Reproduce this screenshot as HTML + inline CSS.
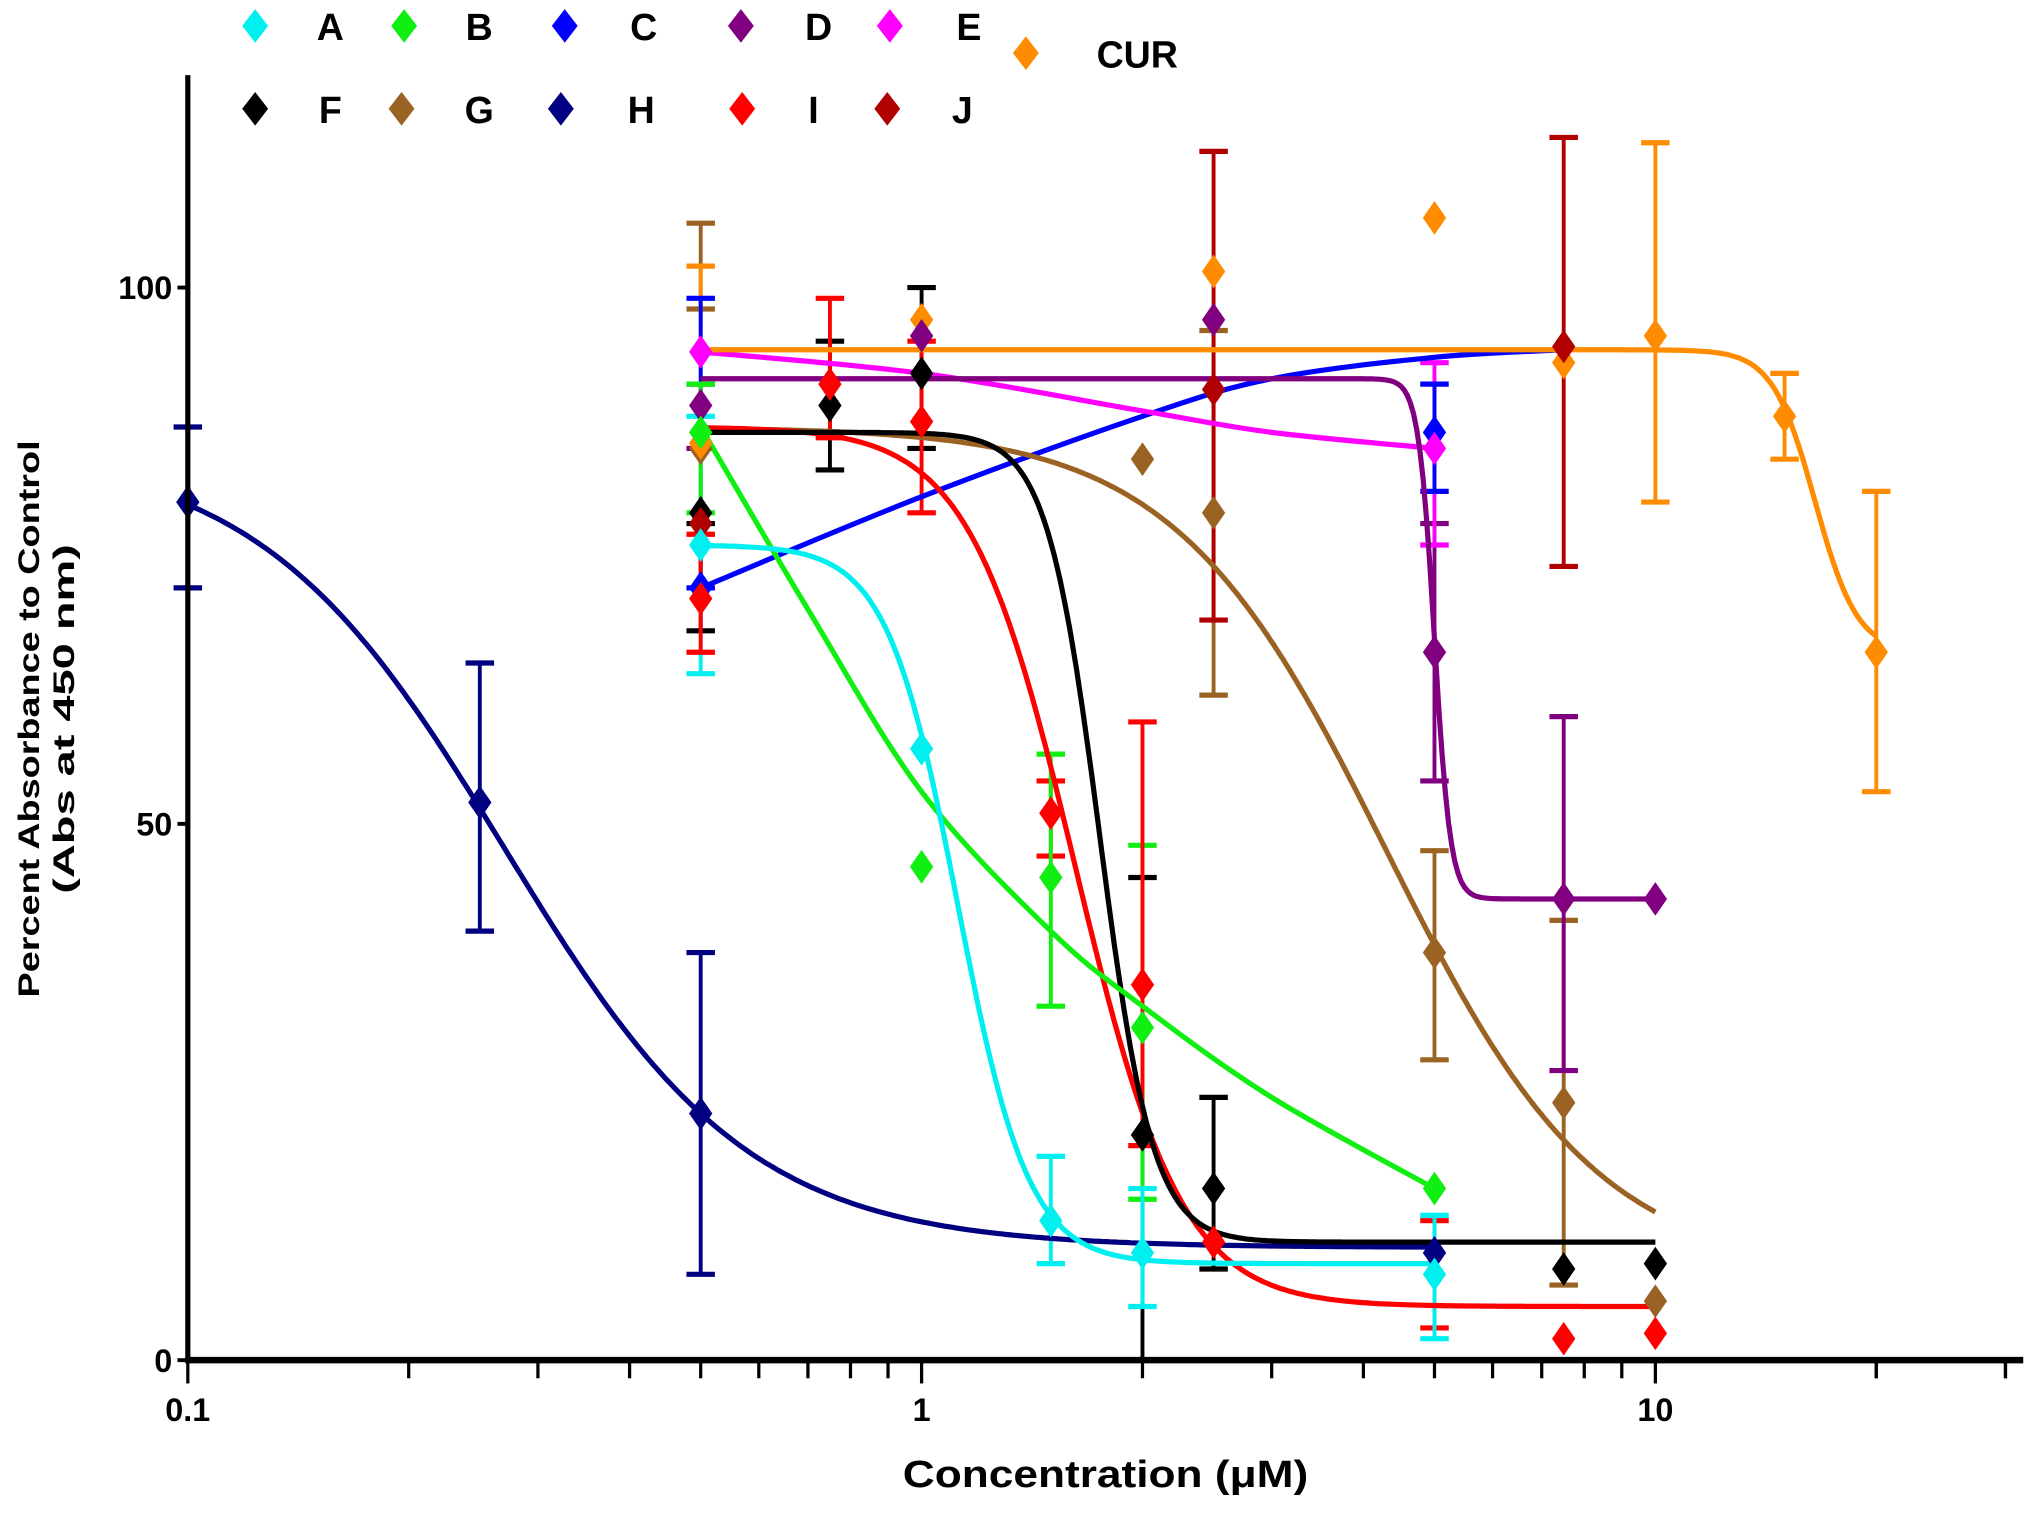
<!DOCTYPE html>
<html><head><meta charset="utf-8"><style>
html,body{margin:0;padding:0;background:#fff}
svg{display:block}
text{font-family:"Liberation Sans",Arial,sans-serif;font-weight:bold}
</style></head><body>
<svg id="s" width="2031" height="1513" viewBox="0 0 1568 1168" preserveAspectRatio="none" xmlns="http://www.w3.org/2000/svg">
<g id="g"></g>
</svg>
<script>
const g=document.getElementById('g');
const X=v=>145+566.5*Math.log10(v/0.1);
const Y=v=>1050-8.28*v;
let out='';
function dia(x,y,c,w=9,h=13){out+=`<polygon points="${x},${y-h} ${x+w},${y} ${x},${y+h} ${x-w},${y}" fill="${c}"/>`;}
function eb(x,lo,hi,c){const px=X(x);out+=`<line x1="${px}" y1="${Y(lo)}" x2="${px}" y2="${Y(hi)}" stroke="${c}" stroke-width="3"/>`;
 [lo,hi].forEach(v=>out+=`<line x1="${px-11}" y1="${Y(v)}" x2="${px+11}" y2="${Y(v)}" stroke="${c}" stroke-width="4"/>`);}
function sig(top,bot,ic,h,x0,x1,c){let p=[];for(let i=0;i<=300;i++){const lx=Math.log10(x0)+(Math.log10(x1)-Math.log10(x0))*i/300;const x=Math.pow(10,lx);const y=bot+(top-bot)/(1+Math.pow(x/ic,h));p.push(X(x).toFixed(1)+','+Y(y).toFixed(1));}
 out+=`<polyline points="${p.join(' ')}" fill="none" stroke="${c}" stroke-width="4"/>`;}
function spl(pts,c){const P=pts.map(q=>[X(q[0]),Y(q[1])]);let d='M'+P[0][0]+','+P[0][1];
 for(let i=0;i<P.length-1;i++){const p0=P[Math.max(0,i-1)],p1=P[i],p2=P[i+1],p3=P[Math.min(P.length-1,i+2)];
 d+=` C${p1[0]+(p2[0]-p0[0])/6},${p1[1]+(p2[1]-p0[1])/6} ${p2[0]-(p3[0]-p1[0])/6},${p2[1]-(p3[1]-p1[1])/6} ${p2[0]},${p2[1]}`;}
 out+=`<path d="${d}" fill="none" stroke="${c}" stroke-width="4"/>`;}
const C={A:'#00f0f0',B:'#11ee11',C:'#0000ff',D:'#800080',E:'#ff00ff',F:'#000000',G:'#9a6323',H:'#000080',I:'#ff0000',J:'#b00000',CUR:'#ff8c00'};
eb(0.5,106,98,C.G);eb(0.5,85,102,C.CUR);eb(0.5,72,99,C.C);eb(0.5,85,91,C.D);eb(0.5,64,88,C.A);eb(0.5,79,91,C.B);eb(0.5,68,78,C.F);eb(0.5,66,77,C.I);
eb(0.75,83,95,C.F);eb(0.75,86,99,C.I);eb(1,85,100,C.F);eb(1,79,95,C.I);
eb(1.5,47,54,C.I);eb(1.5,33,56.5,C.B);eb(1.5,9,19,C.A);
eb(2,0,45,C.F);eb(2,15,48,C.B);eb(2,5,16,C.A);eb(2,20,59.5,C.I);
eb(2.5,8.5,24.5,C.F);eb(2.5,62,96,C.G);eb(2.5,69,112.7,C.J);
eb(5,28,47.5,C.G);eb(5,54,78,C.D);eb(5,76,93,C.E);eb(5,81,91,C.C);eb(5,3,13,C.I);eb(5,2,13.5,C.A);
eb(7.5,7,41,C.G);eb(7.5,27,60,C.D);eb(7.5,74,114,C.J);
eb(10,80,113.5,C.CUR);eb(15,84,92,C.CUR);eb(20,53,81,C.CUR);
sig(85,10.5,0.27,2.6,0.1,5,C.H);
spl([[0.5,72],[1,80.5],[2,88],[3,91.5],[5,93.5],[7.5,94.2]],C.C);
spl([[0.5,94],[1,92],[2,88.5],[3,86.5],[5,85]],C.E);
sig(94.2,66,16.5,15,0.5,20,C.CUR);
sig(91.5,43,5.0,40,0.5,10,C.D);
sig(87,8,4.3,3,0.5,10,C.G);
sig(87,5,1.62,6,0.5,10,C.I);
sig(86.5,11,1.75,12,0.5,10,C.F);
spl([[0.5,87],[0.7,70],[1,53],[1.5,40],[2,33],[3,24.5],[5,16]],C.B);
sig(76,9,1.12,9,0.5,5,C.A);
[[0.5,85,'G'],[0.5,85.5,'CUR'],[0.5,72,'C'],[0.5,89,'D'],[0.5,94,'E'],[0.5,79,'F'],[0.5,78,'J'],[0.5,71,'I'],[0.5,86.5,'B'],[0.5,76,'A'],
[0.75,89,'F'],[0.75,91,'I'],[1,97,'CUR'],[1,95.5,'D'],[1,92,'F'],[1,87.5,'I'],[1,46,'B'],[1,57,'A'],
[1.5,51,'I'],[1.5,45,'B'],[1.5,13,'A'],[2,84,'G'],[2,35,'I'],[2,21,'F'],[2,31,'B'],[2,10,'A'],
[2.5,101.5,'CUR'],[2.5,97,'D'],[2.5,90.5,'J'],[2.5,79,'G'],[2.5,16,'F'],[2.5,11,'I'],
[5,106.5,'CUR'],[5,86.5,'C'],[5,85,'E'],[5,66,'D'],[5,38,'G'],[5,16,'B'],[5,10,'H'],[5,8,'A'],
[7.5,93,'CUR'],[7.5,94.5,'J'],[7.5,43,'D'],[7.5,24,'G'],[7.5,8.5,'F'],[7.5,2,'I'],
[10,95.5,'CUR'],[10,43,'D'],[10,9,'F'],[10,5.5,'G'],[10,2.5,'I'],[15,88,'CUR'],[20,66,'CUR'],
[0.1,80,'H'],[0.25,52,'H'],[0.5,23,'H']].forEach(p=>dia(X(p[0]),Y(p[1]),C[p[2]]));
eb(0.1,72,87,C.H);eb(0.25,40,65,C.H);eb(0.5,8,38,C.H);
out+=`<line x1="145" y1="58" x2="145" y2="1052" stroke="#000" stroke-width="4"/>`;
out+=`<line x1="143" y1="1050" x2="1562" y2="1050" stroke="#000" stroke-width="5"/>`;
[0,50,100].forEach(v=>{out+=`<line x1="137" y1="${Y(v)}" x2="145" y2="${Y(v)}" stroke="#000" stroke-width="3"/><text x="133" y="${Y(v)+9}" font-size="25" text-anchor="end">${v}</text>`;});
for(let d=0.1;d<=10;d*=10)for(let k=1;k<=9;k++){const v=d*k;const px=X(v);const big=(k==1);out+=`<line x1="${px}" y1="1050" x2="${px}" y2="${big?1068:1064}" stroke="#000" stroke-width="2.5"/>`;}
[20,30].forEach(v=>{const px=X(v);out+=`<line x1="${px}" y1="1050" x2="${px}" y2="1064" stroke="#000" stroke-width="2.5"/>`});
[['0.1',0.1],['1',1],['10',10]].forEach(t=>out+=`<text x="${X(t[1])}" y="1097" font-size="25" text-anchor="middle">${t[0]}</text>`);
out+=`<text x="697" y="1148" font-size="29" textLength="313" lengthAdjust="spacingAndGlyphs">Concentration (μM)</text>`;
out+=`<text transform="translate(30,770) rotate(-90)" font-size="23" textLength="430" lengthAdjust="spacingAndGlyphs">Percent Absorbance to Control</text>`;
out+=`<text transform="translate(57,690) rotate(-90)" font-size="23" textLength="270" lengthAdjust="spacingAndGlyphs">(Abs at 450 nm)</text>`;
[['A',197,255,20],['B',312,370,20],['C',436,497,20],['D',572,632,20],['E',687,748,20],['F',197,255,84],['G',310,370,84],['H',433,495,84],['I',573,628,84],['J',685,743,84],['CUR',792,878,41]].forEach(l=>{
 dia(l[1],l[3],C[l[0]],10,13);out+=`<text x="${l[2]}" y="${l[3]+11}" font-size="29" text-anchor="middle">${l[0]}</text>`;});
g.innerHTML=out;
</script>
</body></html>
